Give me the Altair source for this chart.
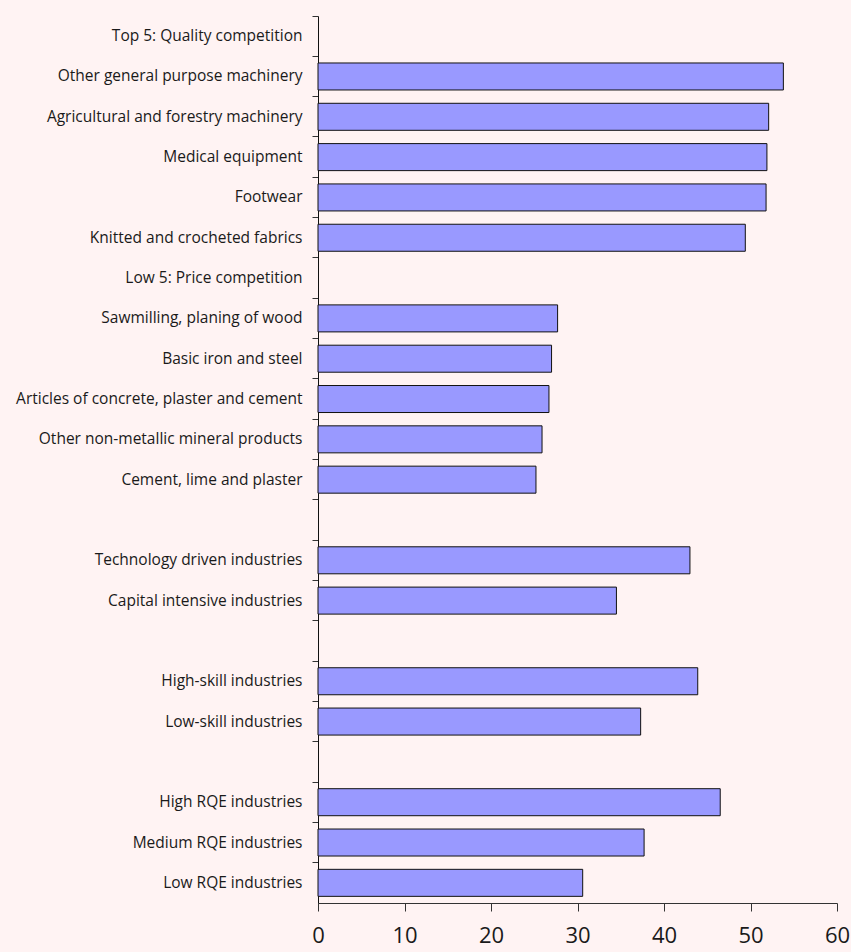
import altair as alt
import pandas as pd

categories = [
    "Top 5: Quality competition",
    "Other general purpose machinery",
    "Agricultural and forestry machinery",
    "Medical equipment",
    "Footwear",
    "Knitted and crocheted fabrics",
    "Low 5: Price competition",
    "Sawmilling, planing of wood",
    "Basic iron and steel",
    "Articles of concrete, plaster and cement",
    "Other non-metallic mineral products",
    "Cement, lime and plaster",
    " ",
    "Technology driven industries",
    "Capital intensive industries",
    "  ",
    "High-skill industries",
    "Low-skill industries",
    "   ",
    "High RQE industries",
    "Medium RQE industries",
    "Low RQE industries",
]
values = [
    None, 53.8, 52.1, 51.9, 51.8, 49.4,
    None, 27.7, 27.0, 26.7, 25.9, 25.2,
    None, 43.0, 34.5,
    None, 43.9, 37.3,
    None, 46.5, 37.7, 30.6,
]
x_ticks = [0, 10, 20, 30, 40, 50, 60]

df = pd.DataFrame({"category": categories, "value": values})

FONT = "Open Sans"

chart = (
    alt.Chart(df)
    .mark_bar(height={"band": 0.67}, color="#9999FF", stroke="#111111", strokeWidth=1)
    .encode(
        x=alt.X(
            "value:Q",
            scale=alt.Scale(domain=[0, 60], nice=False, zero=True),
            axis=alt.Axis(
                values=x_ticks,
                title=None,
                grid=False,
                domainColor="#333333",
                tickColor="#333333",
                tickSize=8,
                labelFontSize=22,
                labelFont=FONT,
                labelColor="#1a1a1a",
                labelPadding=14,
                labelFlush=False,
            ),
        ),
        y=alt.Y(
            "category:N",
            sort=categories,
            scale=alt.Scale(domain=categories, paddingInner=0, paddingOuter=0),
            axis=alt.Axis(
                title=None,
                bandPosition=0,
                domainColor="#111111",
                tickColor="#333333",
                tickSize=6,
                labelFontSize=15.5,
                labelFont=FONT,
                labelColor="#1a1a1a",
                labelPadding=10,
                labelLimit=400,
            ),
        ),
        tooltip=alt.value(None),
    )
    .properties(
        width=519,
        height=887,
        autosize=alt.AutoSizeParams(type="none"),
        padding={"left": 318, "top": 16, "right": 14, "bottom": 49},
        background="#FFF3F3",
    )
    .configure_view(stroke=None)
)

chart.save("out.html", embed_options={"renderer": "svg", "actions": False})
